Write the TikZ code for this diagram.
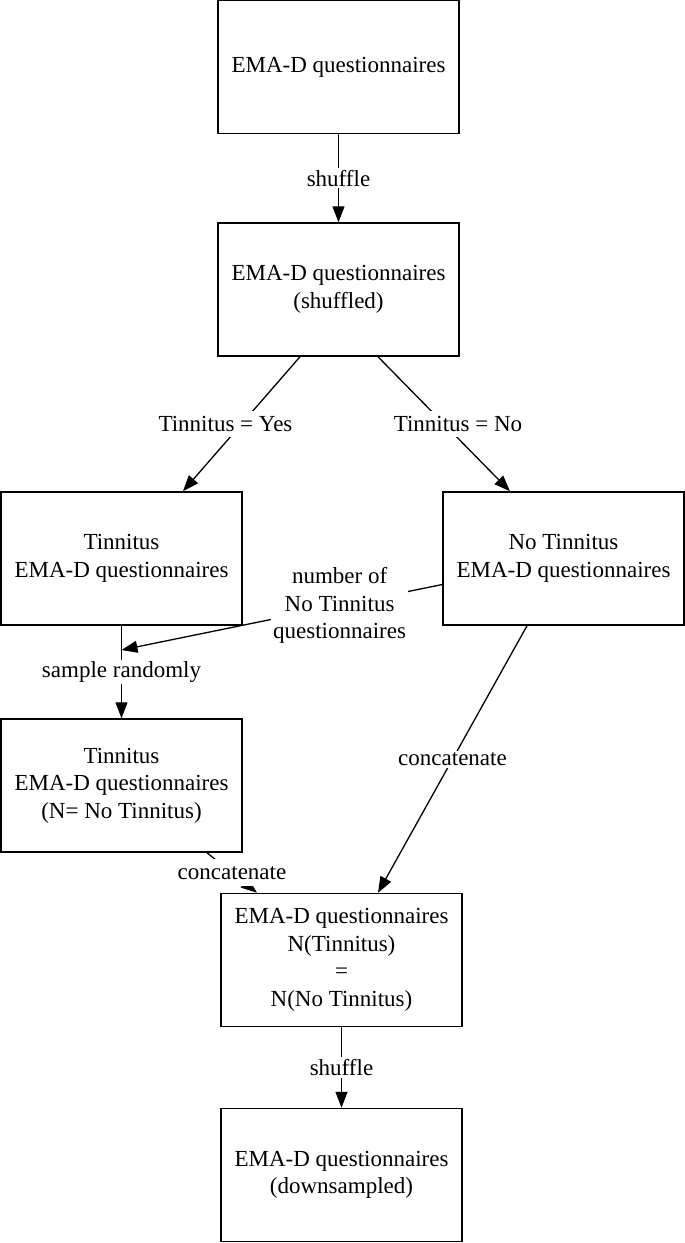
\documentclass[tikz,border=0pt]{standalone}
\usepackage{fontspec}
\setmainfont{Liberation Serif}
\usetikzlibrary{arrows.meta}
\begin{document}
\begin{tikzpicture}[x=1pt,y=-1pt,
  box/.style={draw, line width=1.5pt, minimum width=241pt, minimum height=133pt, align=center, inner sep=0pt, font=\fontsize{23}{27.5}\selectfont},
  conn/.style={line width=1.3pt, -{Triangle[length=16pt,width=12pt]}},
  lbl/.style={fill=white, inner sep=2pt, align=center, font=\fontsize{23}{27.5}\selectfont}]
\useasboundingbox (0,0) rectangle (685,1243);
\node[box] (b1) at (338.5,67) {EMA-D questionnaires};
\node[box] (b2) at (338.5,289.5) {EMA-D questionnaires\\(shuffled)};
\node[box] (b3) at (121.5,558.5) {Tinnitus\\EMA-D questionnaires};
\node[box] (b4) at (563.5,558.5) {No Tinnitus\\EMA-D questionnaires};
\node[box] (b5) at (121.5,785.5) {Tinnitus\\EMA-D questionnaires\\(N= No Tinnitus)};
\node[box] (b6) at (341.5,960) {EMA-D questionnaires\\N(Tinnitus)\\=\\N(No Tinnitus)};
\node[box] (b7) at (341.5,1175) {EMA-D questionnaires\\(downsampled)};
\coordinate (j) at (121.5,650);
\draw[conn] (b1) -- node[lbl]{shuffle} (b2);
\draw[conn] ([xshift=-38.5pt]b2.south) -- node[lbl, xshift=-16pt, inner sep=5pt]{Tinnitus = Yes} ([xshift=61.5pt]b3.north);
\draw[conn] ([xshift=39.5pt]b2.south) -- node[lbl, xshift=14pt, inner sep=5pt]{Tinnitus = No} ([xshift=-53.5pt]b4.north);
\draw[conn] (b3) -- node[lbl]{sample randomly} (b5);
\draw[conn] ([yshift=-26pt]b4.west) -- node[lbl, pos=0.32]{number of\\No Tinnitus\\questionnaires} (j);
\draw[conn] ([xshift=-36.5pt]b4.south) -- node[lbl]{concatenate} ([xshift=36.5pt]b6.north);
\draw[conn] ([xshift=85.5pt]b5.south) -- node[lbl, inner ysep=7pt]{concatenate} ([xshift=-84.5pt]b6.north);
\draw[conn] (b6) -- node[lbl]{shuffle} (b7);
\end{tikzpicture}
\end{document}
